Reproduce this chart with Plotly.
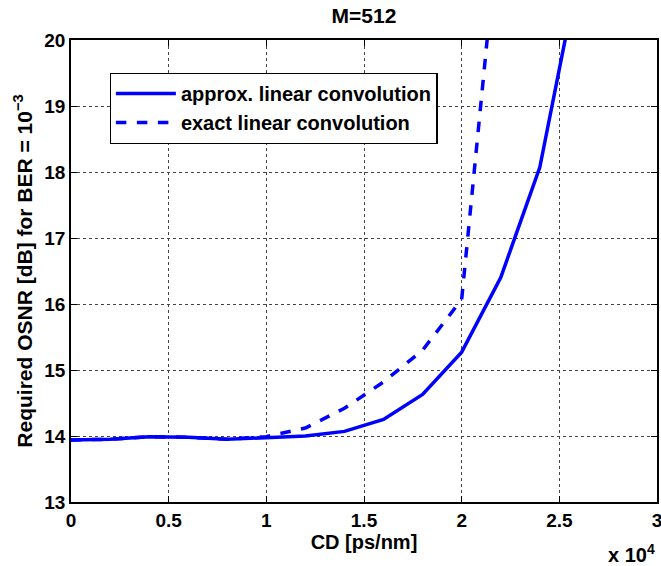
import plotly.graph_objects as go

cd = [0, 2000, 4000, 6000, 8000, 10000, 12000, 14000, 16000, 18000, 20000, 22000, 24000, 26000]
osnr_approx = [13.94, 13.95, 13.99, 13.98, 13.95, 13.97, 14.0, 14.07, 14.25, 14.63, 15.27, 16.4, 18.07, 21.05]
cd_exact = [0, 2000, 4000, 6000, 8000, 10000, 12000, 14000, 16000, 18000, 20000, 22000]
osnr_exact = [13.94, 13.95, 13.99, 13.98, 13.95, 13.99, 14.12, 14.42, 14.82, 15.3, 16.07, 22.1]

xtick_vals = [0, 5000, 10000, 15000, 20000, 25000, 30000]
xtick_text = ["0", "0.5", "1", "1.5", "2", "2.5", "3"]
ytick_vals = [13, 14, 15, 16, 17, 18, 19, 20]

FAM = "Liberation Sans, Arial, sans-serif"
font = dict(family=FAM, size=19, color="black", weight="bold")
lab_font = dict(family=FAM, size=20, color="black", weight="bold")

fig = go.Figure()
fig.add_trace(go.Scatter(x=cd, y=osnr_approx, mode="lines", name="approx. linear convolution",
                         line=dict(color="#0000ff", width=3.5)))
fig.add_trace(go.Scatter(x=cd_exact, y=osnr_exact, mode="lines", name="exact linear convolution",
                         line=dict(color="#0000ff", width=3.5, dash="dash")))

axis_common = dict(showline=True, linecolor="black", linewidth=1.5, mirror="ticks",
                   ticks="inside", ticklen=6, tickcolor="black",
                   showgrid=True, gridcolor="#444", griddash="dot", gridwidth=1,
                   zeroline=False, tickfont=font, automargin=False,
                   ticklabeloverflow="allow")

fig.update_xaxes(range=[0, 30000], tickvals=xtick_vals, ticktext=xtick_text,
                 title=dict(text="CD [ps/nm]", font=lab_font, standoff=2),
                 **axis_common)
fig.update_yaxes(range=[13, 20], tickvals=ytick_vals,
                 title=dict(text="Required OSNR [dB] for BER = 10<sup>\u22123</sup>",
                            font=dict(family=FAM, size=21, color="black", weight="bold"), standoff=6),
                 **axis_common)

fig.update_layout(
    width=661, height=566,
    margin=dict(l=71, r=4, t=40, b=64, autoexpand=False),
    paper_bgcolor="white", plot_bgcolor="white",
    font=font,
    title=dict(text="M=512", x=0.5, xref="paper", xanchor="center", y=0.973, yanchor="middle",
               font=dict(family=FAM, size=21, color="black", weight="bold")),
    showlegend=True,
    legend=dict(x=0.066, y=0.929, xanchor="left", yanchor="top",
                bordercolor="black", borderwidth=1.2, bgcolor="white",
                font=dict(family=FAM, size=20, color="black", weight="bold"),
                tracegroupgap=0, itemwidth=60),
    annotations=[dict(text="x 10<sup>4</sup>", x=1.0, y=-0.08, xref="paper", yref="paper",
                      xanchor="right", yanchor="top", showarrow=False,
                      font=lab_font)],
)

fig.write_html("out.html")
